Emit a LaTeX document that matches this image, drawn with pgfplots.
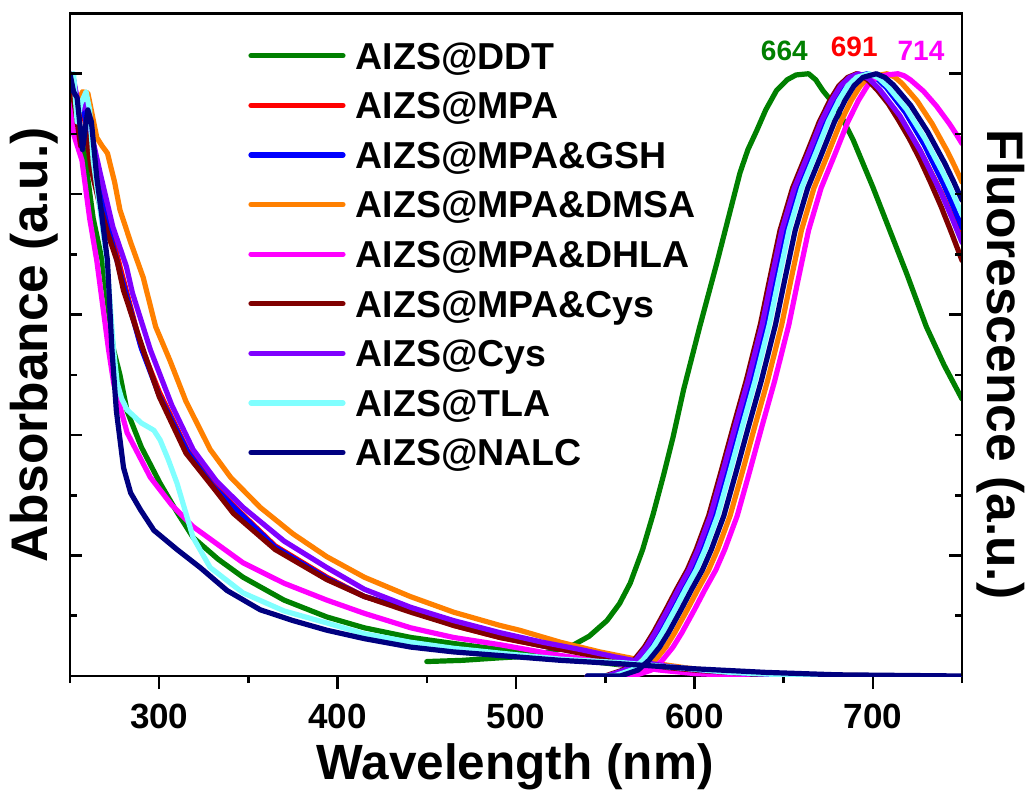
\documentclass[border=0pt]{standalone}
\usepackage{fontspec}
\setmainfont{Liberation Sans}
\usepackage{pgfplots}
\pgfplotsset{compat=1.18}

\definecolor{cGreen}{RGB}{0,128,0}
\definecolor{cRed}{RGB}{255,0,0}
\definecolor{cBlue}{RGB}{0,0,255}
\definecolor{cOrange}{RGB}{255,128,0}
\definecolor{cMagenta}{RGB}{255,0,255}
\definecolor{cMaroon}{RGB}{128,0,0}
\definecolor{cPurple}{RGB}{128,0,255}
\definecolor{cCyan}{RGB}{128,255,255}
\definecolor{cNavy}{RGB}{0,0,128}

\pgfplotsset{
  common/.style={at={(0,0)}, anchor=south west, scale only axis,
    width=892bp, height=662.5bp, xmin=250, xmax=750, ymin=0, ymax=5.5,
    axis line style={line width=2.6bp, black},
    tick style={line width=2.6bp, black},
    major tick length=13bp, minor tick length=7bp},
  cv/.style={#1, line width=5.2bp, line join=round, line cap=round},
}

\begin{document}
\begin{tikzpicture}
\useasboundingbox (-70bp,-117bp) rectangle (962bp,676bp);
\begin{axis}[common,
  tick align=outside,
  xtick={300,400,500,600,700}, minor xtick={250,350,450,550,650,750},
  xtick pos=lower, ytick=\empty,
  /pgf/number format/assume math mode=true,
  xticklabel style={font=\fontsize{35bp}{35bp}\selectfont\bfseries, inner sep=0pt, anchor=base, yshift=-39bp},
  xlabel={Wavelength (nm)},
  xlabel style={font=\fontsize{49.5bp}{49.5bp}\selectfont\bfseries, at={(axis description cs:0.499,-0.1555)}, anchor=base},
  ylabel={Absorbance (a.u.)},
  ylabel style={font=\fontsize{51.5bp}{51.5bp}\selectfont\bfseries, at={(axis description cs:-0.0247,0.5)}, anchor=base},
  legend cell align=left,
  legend image code/.code={\draw[#1, line cap=round] (0bp,0bp) -- (92bp,0bp);},
  legend style={at={(axis description cs:0.2,0.9562)}, anchor=north west,
    draw=none, fill=none, inner sep=0pt, outer sep=0pt, row sep=23.1bp, column sep=10bp,
    font=\fontsize{37.5bp}{37.5bp}\selectfont\bfseries,
    nodes={inner sep=0pt, text height=26.5bp, text depth=0pt}},
]
% AIZS@DDT
\addplot[cv=cGreen] coordinates {(250,4.85)(252,4.95)(254.6,4.64)(256,4.5)(258.6,4.28)(263,3.8)(268,3.45)(274.4,2.71)(278,2.5)(282,2.2)(290,1.9)(300.5,1.6)(310,1.36)(319,1.15)(333,0.97)(347,0.82)(370,0.63)(394,0.49)(415,0.40)(441,0.32)(465,0.27)(491,0.22)(525,0.15)(560,0.09)(590,0.04)(620,0.01)(650,0)};
\addlegendentry{AIZS@DDT}
\addplot[cv=cGreen, forget plot] coordinates {(450,0.12)(470,0.13)(490,0.15)(502,0.16)(515,0.19)(530,0.24)(541,0.33)(551,0.46)(558,0.6)(564,0.77)(571,1.05)(577,1.35)(582.4,1.65)(588,1.98)(594,2.38)(603,2.9)(612.6,3.43)(619,3.8)(625.6,4.18)(630,4.37)(635,4.53)(640,4.7)(646,4.86)(652,4.95)(657,4.99)(664,5.0)(668,4.95)(672,4.86)(677,4.77)(681.5,4.67)(689,4.45)(700,4.06)(709.5,3.70)(719,3.34)(730,2.90)(740,2.58)(750,2.3)};
% AIZS@MPA
\addplot[cv=cRed] coordinates {(250,4.9)(254,4.6)(257,4.7)(260,4.5)(264,4.25)(268.6,3.95)(278,3.4)(289.5,2.75)(300,2.36)(315.7,1.88)(330,1.6)(344,1.38)(365,1.08)(394,0.82)(415,0.66)(441,0.55)(465,0.42)(491,0.32)(515,0.25)(536,0.2)(555,0.15)(569,0.12)(585,0.08)(603,0.05)(630,0.02)(660,0.005)(700,0)};
\addlegendentry{AIZS@MPA}
\addplot[cv=cRed, forget plot] coordinates {(540,0)(551.5,0)(561.5,0.05)(567.5,0.13)(573.5,0.24)(578.5,0.36)(585.5,0.55)(591.5,0.72)(597.5,0.88)(602.5,1.05)(609.5,1.33)(616.5,1.70)(623.5,2.08)(630.5,2.45)(638.5,2.92)(643.5,3.28)(649.5,3.70)(656.5,4.05)(664.5,4.34)(671.5,4.60)(677.5,4.78)(682.5,4.90)(687.5,4.97)(691,5.0)(696.9,4.959)(702.8,4.876)(714.6,4.655)(726.4,4.365)(738.2,4.02)(744.1,3.827)(750,3.62)};
% AIZS@MPA&GSH
\addplot[cv=cBlue] coordinates {(250,4.95)(253,4.7)(256,4.8)(259,4.6)(262,4.3)(266,4.05)(270,3.8)(279,3.3)(290,2.72)(300,2.33)(316,1.86)(330,1.58)(344,1.37)(365,1.07)(394,0.81)(415,0.66)(441,0.55)(465,0.43)(491,0.33)(515,0.25)(536,0.2)(555,0.15)(569,0.12)(585,0.08)(603,0.05)(630,0.02)(660,0.005)(700,0)};
\addlegendentry{AIZS@MPA\&GSH}
\addplot[cv=cBlue, forget plot] coordinates {(540,0)(553,0)(563,0.05)(569,0.13)(575,0.24)(580,0.36)(587,0.55)(593,0.72)(599,0.88)(604,1.05)(611,1.33)(618,1.70)(625,2.08)(632,2.45)(640,2.92)(645,3.28)(651,3.70)(658,4.05)(666,4.34)(673,4.60)(679,4.78)(684,4.90)(689,4.97)(697,5.0)(702.3,4.96)(707.6,4.885)(718.2,4.68)(728.8,4.411)(739.4,4.091)(744.7,3.912)(750,3.72)};
% AIZS@MPA&DMSA
\addplot[cv=cOrange] coordinates {(250,4.95)(254,4.75)(257,4.85)(260,4.84)(263,4.62)(265,4.47)(268,4.40)(271,4.34)(275,4.1)(278,3.87)(284,3.6)(291,3.31)(298,2.9)(306,2.62)(315,2.28)(328.6,1.88)(340,1.65)(356.6,1.40)(375,1.18)(394,0.99)(415,0.82)(440.7,0.66)(465,0.53)(491,0.42)(502,0.38)(525,0.28)(547,0.2)(564,0.15)(580,0.1)(596,0.066)(612,0.04)(629,0.025)(650,0.01)(680,0.005)(715,0)};
\addlegendentry{AIZS@MPA\&DMSA}
\addplot[cv=cOrange, forget plot] coordinates {(540,0)(562,0)(572,0.05)(578,0.13)(584,0.24)(589,0.36)(596,0.55)(602,0.72)(608,0.88)(613,1.05)(620,1.33)(627,1.70)(634,2.08)(641,2.45)(649,2.92)(654,3.28)(660,3.70)(667,4.05)(675,4.34)(682,4.60)(688,4.78)(693,4.90)(698,4.97)(708,5.0)(712.2,4.973)(716.4,4.919)(724.8,4.775)(733.2,4.586)(741.6,4.361)(745.8,4.235)(750,4.1)};
% AIZS@MPA&DHLA
\addplot[cv=cMagenta] coordinates {(250,4.9)(252,4.5)(256.7,4.28)(261,3.8)(265,3.45)(271.6,2.71)(274.5,2.43)(282,2.02)(295,1.65)(307,1.42)(319,1.24)(347,0.94)(370,0.77)(394,0.63)(415,0.52)(441,0.40)(465,0.32)(491,0.26)(525,0.17)(558,0.10)(580,0.05)(600,0.02)(630,0)};
\addlegendentry{AIZS@MPA\&DHLA}
\addplot[cv=cMagenta, forget plot] coordinates {(540,0)(566,0)(576,0.05)(582,0.13)(588,0.24)(593,0.36)(600,0.55)(606,0.72)(612,0.88)(617,1.05)(624,1.33)(631,1.70)(638,2.08)(645,2.45)(653,2.92)(658,3.28)(664,3.70)(671,4.05)(679,4.34)(686,4.60)(692,4.78)(697,4.90)(702,4.97)(708,4.99)(714,5.0)(717.6,4.983)(721.2,4.948)(728.4,4.855)(735.6,4.733)(742.8,4.588)(746.4,4.507)(750,4.42)};
% AIZS@MPA&Cys
\addplot[cv=cMaroon] coordinates {(250,4.95)(253,4.7)(256,4.4)(258.5,4.56)(262,4.2)(266,3.95)(271,3.68)(276.3,3.45)(280,3.2)(291,2.71)(300,2.32)(315,1.85)(330,1.57)(341.6,1.35)(365,1.05)(394,0.80)(415,0.66)(441,0.53)(465,0.42)(491,0.32)(515,0.25)(536,0.19)(555,0.14)(569,0.11)(585,0.07)(603,0.045)(630,0.02)(660,0.005)(700,0)};
\addlegendentry{AIZS@MPA\&Cys}
\addplot[cv=cMaroon, forget plot] coordinates {(540,0)(550,0)(560,0.05)(566,0.13)(572,0.24)(577,0.36)(584,0.55)(590,0.72)(596,0.88)(601,1.05)(608,1.33)(615,1.70)(622,2.08)(629,2.45)(637,2.92)(642,3.28)(648,3.70)(655,4.05)(663,4.34)(670,4.60)(676,4.78)(681,4.90)(686,4.97)(691,5.0)(696.9,4.953)(702.8,4.86)(708.7,4.75)(714.6,4.61)(720.5,4.46)(726.4,4.29)(732.3,4.10)(738.2,3.90)(744.1,3.68)(750,3.45)};
% AIZS@Cys
\addplot[cv=cPurple] coordinates {(250,5.0)(252,4.95)(254,4.8)(256,4.7)(259,4.75)(262,4.5)(267,4.17)(274,3.73)(281.6,3.4)(285,3.18)(295,2.71)(307,2.25)(319,1.88)(332,1.62)(347,1.40)(370,1.12)(394,0.90)(415,0.72)(441,0.57)(465,0.46)(491,0.36)(515,0.28)(536,0.22)(555,0.16)(569,0.12)(585,0.08)(603,0.05)(630,0.02)(660,0.005)(700,0)};
\addlegendentry{AIZS@Cys}
\addplot[cv=cPurple, forget plot] coordinates {(540,0)(551,0)(561,0.05)(567,0.13)(573,0.24)(578,0.36)(585,0.55)(591,0.72)(597,0.88)(602,1.05)(609,1.33)(616,1.70)(623,2.08)(630,2.45)(638,2.92)(643,3.28)(649,3.70)(656,4.05)(664,4.34)(671,4.60)(677,4.78)(682,4.90)(687,4.97)(692,5.0)(697.8,4.958)(703.6,4.874)(715.2,4.65)(726.8,4.356)(738.4,4.006)(744.2,3.81)(750,3.6)};
% AIZS@TLA
\addplot[cv=cCyan] coordinates {(250,4.9)(252,5.0)(254,4.6)(256,4.75)(259,4.85)(261,4.7)(263,4.28)(267,3.85)(270.7,3.45)(274.4,2.71)(276.5,2.43)(279,2.3)(282,2.21)(290,2.1)(297,2.04)(300.5,1.96)(305,1.8)(310,1.60)(319,1.15)(328.6,0.90)(347,0.69)(370,0.54)(394,0.44)(415,0.35)(441,0.28)(465,0.23)(491,0.19)(525,0.14)(560,0.11)(590,0.07)(620,0.03)(650,0.01)(690,0)};
\addlegendentry{AIZS@TLA}
\addplot[cv=cCyan, forget plot] coordinates {(540,0)(555,0)(565,0.05)(571,0.13)(577,0.24)(582,0.36)(589,0.55)(595,0.72)(601,0.88)(606,1.05)(613,1.33)(620,1.70)(627,2.08)(634,2.45)(642,2.92)(647,3.28)(653,3.70)(660,4.05)(668,4.34)(675,4.60)(681,4.78)(686,4.90)(691,4.97)(698,5.0)(703.2,4.965)(708.4,4.895)(718.8,4.708)(729.2,4.462)(739.6,4.169)(744.8,4.006)(750,3.83)};
% AIZS@NALC
\addplot[cv=cNavy] coordinates {(250,5.0)(252,4.85)(254,4.8)(257,4.37)(260,4.7)(262,4.6)(265,4.14)(268,3.8)(271,3.45)(273.5,2.71)(276,2.2)(280,1.73)(284,1.52)(289.5,1.38)(297,1.21)(310,1.05)(323,0.90)(338,0.71)(356.6,0.55)(375,0.46)(394,0.38)(415,0.31)(441,0.24)(465,0.2)(491,0.17)(525,0.13)(560,0.1)(600,0.06)(640,0.03)(680,0.01)(750,0)};
\addlegendentry{AIZS@NALC}
\addplot[cv=cNavy, forget plot] coordinates {(540,0)(558.5,0)(568.5,0.05)(574.5,0.13)(580.5,0.24)(585.5,0.36)(592.5,0.55)(598.5,0.72)(604.5,0.88)(609.5,1.05)(616.5,1.33)(623.5,1.70)(630.5,2.08)(637.5,2.45)(645.5,2.92)(650.5,3.28)(656.5,3.70)(663.5,4.05)(671.5,4.34)(678.5,4.60)(684.5,4.78)(689.5,4.90)(694.5,4.97)(702,5.0)(706.8,4.969)(711.6,4.906)(721.2,4.738)(730.8,4.517)(740.4,4.255)(745.2,4.108)(750,3.95)};
% peak labels
\node[font=\fontsize{28bp}{28bp}\selectfont\bfseries, text=cGreen, anchor=base] at (axis cs:650.4,5.11) {664};
\node[font=\fontsize{28bp}{28bp}\selectfont\bfseries, text=cRed, anchor=base] at (axis cs:689.6,5.14) {691};
\node[font=\fontsize{28bp}{28bp}\selectfont\bfseries, text=cMagenta, anchor=base] at (axis cs:727,5.11) {714};
\end{axis}
% left y ticks (inside)
\begin{axis}[common, axis x line=none, axis y line*=left, tick align=inside,
  major tick length=12bp,
  ytick={1,2,3,4,5}, minor ytick={0.5,1.5,2.5,3.5,4.5}, yticklabels={}]
\end{axis}
% right y ticks (inside)
\begin{axis}[common, axis x line=none, axis y line*=right, tick align=inside,
  ytick={1,3,5}, minor ytick={0.5,1.5,2,2.5,3.5,4,4.5}, yticklabels={},
  ylabel={Fluorescence (a.u.)},
  ylabel style={font=\fontsize{51.5bp}{51.5bp}\selectfont\bfseries, rotate=180, at={(axis description cs:1.0291,0.47)}, anchor=base}]
\end{axis}
\end{tikzpicture}
\end{document}
